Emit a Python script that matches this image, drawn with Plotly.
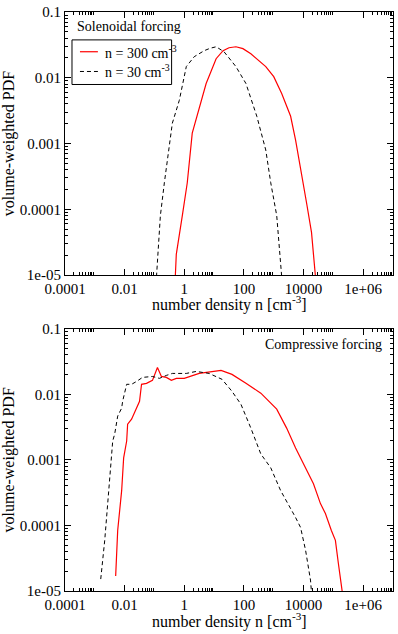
import plotly.graph_objects as go

# solenoidal forcing (top panel)
sol_n_300 = [0.50, 0.54, 0.86, 1.26, 1.85, 2.15, 3.69, 5.41, 11.7, 20, 31.6, 54, 92.7, 171,
             541, 1000, 1850, 3690, 5410, 9270, 12600, 18500, 25100]
sol_pdf_300 = [9.5e-6, 2.07e-5, 8.05e-5, 2.54e-4, 1.44e-3, 1.84e-3, 4.08e-3, 8.18e-3, 0.0195,
               0.0258, 0.0286, 0.0296, 0.0277, 0.0232, 0.0148, 0.0104, 5.78e-3, 2.60e-3,
               1.13e-3, 2.54e-4, 1.26e-4, 4.46e-5, 9.5e-6]
sol_n_30 = [0.117, 0.158, 0.215, 0.271, 0.398, 0.681, 1.17, 2.15, 4.64, 7.36, 11.7, 21.5, 54,
            117, 271, 541, 794, 1260, 1850]
sol_pdf_30 = [9.5e-6, 8.05e-5, 2.54e-4, 5.64e-4, 2.04e-3, 4.54e-3, 0.0148, 0.0209, 0.0258,
              0.0281, 0.0296, 0.0249, 0.0148, 8.18e-3, 2.60e-3, 7.98e-4, 2.54e-4, 8.05e-5,
              9.5e-6]

# compressive forcing (bottom panel)
comp_n_300 = [5.0e-3, 5.85e-3, 7.94e-3, 9.27e-3, 0.0117, 0.0126, 0.0171, 0.0251, 0.0316,
              0.0369, 0.0541, 0.0857, 0.126, 0.171, 0.251, 0.369, 0.541, 1.0, 3.16, 17.1,
              39.8, 117, 369, 1260, 2710, 5410, 11700, 21500, 36900, 54100, 85700, 117000,
              147000, 200000]
comp_pdf_300 = [1.69e-5, 8.39e-5, 3.39e-4, 1.07e-3, 1.94e-3, 3.51e-3, 4.18e-3, 6.14e-3,
                7.83e-3, 0.0142, 0.0147, 0.0163, 0.0256, 0.0187, 0.0181, 0.0163, 0.0175,
                0.0175, 0.0208, 0.0231, 0.0201, 0.0147, 0.0104, 5.93e-3, 3.05e-3, 1.52e-3,
                7.57e-4, 4.33e-4, 2.15e-4, 1.52e-4, 8.39e-5, 5.93e-5, 2.65e-5, 9.5e-6]
comp_n_30 = [1.58e-3, 2.15e-3, 2.93e-3, 3.98e-3, 4.64e-3, 5.85e-3, 7.94e-3, 8.57e-3, 0.0117,
             0.0171, 0.0251, 0.0398, 0.0857, 0.147, 0.251, 0.398, 1.17, 2.51, 6.81, 18.5,
             39.8, 79.4, 171, 369, 794, 1710, 5410, 7940, 11700, 17100, 18500]
comp_pdf_30 = [1.52e-5, 5.93e-5, 3.39e-4, 1.94e-3, 2.48e-3, 4.65e-3, 6.14e-3, 7.83e-3,
               0.0142, 0.0142, 0.0157, 0.0181, 0.0187, 0.0175, 0.0194, 0.0208, 0.0208,
               0.0223, 0.0208, 0.0169, 0.0111, 7.05e-3, 3.05e-3, 1.23e-3, 7.57e-4, 3.39e-4,
               1.32e-4, 9.33e-5, 4.18e-5, 1.47e-5, 9.5e-6]

x_tickvals = [1e-4, 1e-2, 1, 100, 1e4, 1e6]
x_ticktext = ['0.0001', '0.01', '1', '100', '10000', '1e+06']
y_tickvals = [1e-5, 1e-4, 1e-3, 1e-2, 1e-1]
y_ticktext = ['1e-05', '0.0001', '0.001', '0.01', '0.1']

FONT = 'Liberation Serif'
RED = '#ff0000'
DASH = '4px,3px'

x_minor = [k * 10.0 ** e for e in (-4, -2, 0, 2, 4, 6) for k in range(2, 10)]
y_minor = [k * 10.0 ** e for e in (-5, -4, -3, -2) for k in range(2, 10)]

fig = go.Figure()

fig.add_trace(go.Scatter(x=sol_n_300, y=sol_pdf_300, mode='lines', showlegend=False,
                         line=dict(color=RED, width=1.2), xaxis='x', yaxis='y'))
fig.add_trace(go.Scatter(x=sol_n_30, y=sol_pdf_30, mode='lines', showlegend=False,
                         line=dict(color='black', width=1, dash=DASH), xaxis='x', yaxis='y'))
fig.add_trace(go.Scatter(x=comp_n_300, y=comp_pdf_300, mode='lines', showlegend=False,
                         line=dict(color=RED, width=1.2), xaxis='x2', yaxis='y2'))
fig.add_trace(go.Scatter(x=comp_n_30, y=comp_pdf_30, mode='lines', showlegend=False,
                         line=dict(color='black', width=1, dash=DASH), xaxis='x2', yaxis='y2'))

xaxis_style = dict(type='log', range=[-4, 7], tickvals=x_tickvals, ticktext=x_ticktext,
                   ticks='inside', ticklen=6, tickcolor='black', showline=True, linecolor='black',
                   linewidth=1, mirror='allticks', showgrid=False, zeroline=False,
                   minor=dict(tickvals=x_minor, ticks='inside', ticklen=3, tickcolor='black',
                              showgrid=False),
                   tickfont=dict(family=FONT, size=15, color='black'))
yaxis_style = dict(type='log', range=[-5, -1], tickvals=y_tickvals, ticktext=y_ticktext,
                   ticks='inside', ticklen=6, tickcolor='black', showline=True, linecolor='black',
                   linewidth=1, mirror='allticks', showgrid=False, zeroline=False,
                   minor=dict(tickvals=y_minor, ticks='inside', ticklen=3, tickcolor='black',
                              showgrid=False),
                   tickfont=dict(family=FONT, size=15, color='black'),
                   title=dict(text='volume-weighted PDF', standoff=2,
                              font=dict(family=FONT, size=16, color='black')))

txt = dict(family=FONT, size=14, color='black')
xtitle = 'number density n [cm<sup>-3</sup>]'

annotations = [
    dict(text='Solenoidal forcing', xref='x domain', yref='y domain', x=0.03, y=0.943,
         xanchor='left', yanchor='middle', showarrow=False, font=txt),
    dict(text='Compressive forcing', xref='x2 domain', yref='y2 domain', x=0.973, y=0.939,
         xanchor='right', yanchor='middle', showarrow=False, font=txt),
    dict(text=xtitle, xref='x domain', yref='paper', x=0.5, y=0.4957, xanchor='center',
         yanchor='middle', showarrow=False, font=dict(family=FONT, size=16, color='black')),
    dict(text=xtitle, xref='x2 domain', yref='paper', x=0.5, y=-0.0515, xanchor='center',
         yanchor='middle', showarrow=False, font=dict(family=FONT, size=16, color='black')),
    # legend labels
    dict(text='n = 300 cm<sup>-3</sup>', xref='x domain', yref='y domain', x=0.1155, y=0.849,
         xanchor='left', yanchor='middle', showarrow=False, font=txt),
    dict(text='n = 30 cm<sup>-3</sup>', xref='x domain', yref='y domain', x=0.1155, y=0.774,
         xanchor='left', yanchor='middle', showarrow=False, font=txt),
]

shapes = [
    dict(type='rect', xref='x domain', yref='y domain', x0=0.0213, x1=0.325, y0=0.7245, y1=0.894,
         line=dict(color='black', width=1), fillcolor='white', layer='above'),
    dict(type='line', xref='x domain', yref='y domain', x0=0.0456, x1=0.1003, y0=0.849, y1=0.849,
         line=dict(color=RED, width=1.2)),
    dict(type='line', xref='x domain', yref='y domain', x0=0.0456, x1=0.1003, y0=0.774, y1=0.774,
         line=dict(color='black', width=1, dash=DASH)),
]

fig.update_layout(
    width=398, height=634,
    margin=dict(l=65, r=4, t=8, b=43),
    paper_bgcolor='white', plot_bgcolor='white',
    font=dict(family=FONT, size=14, color='black'),
    showlegend=False,
    xaxis=dict(xaxis_style, anchor='y', domain=[0, 1]),
    yaxis=dict(yaxis_style, anchor='x', domain=[0.5455, 1]),
    xaxis2=dict(xaxis_style, anchor='y2', domain=[0, 1]),
    yaxis2=dict(yaxis_style, anchor='x2', domain=[0, 0.453]),
    annotations=annotations,
    shapes=shapes,
)

fig.write_html('out.html', config={'displayModeBar': False},
               post_script="document.body.style.margin='0';")
